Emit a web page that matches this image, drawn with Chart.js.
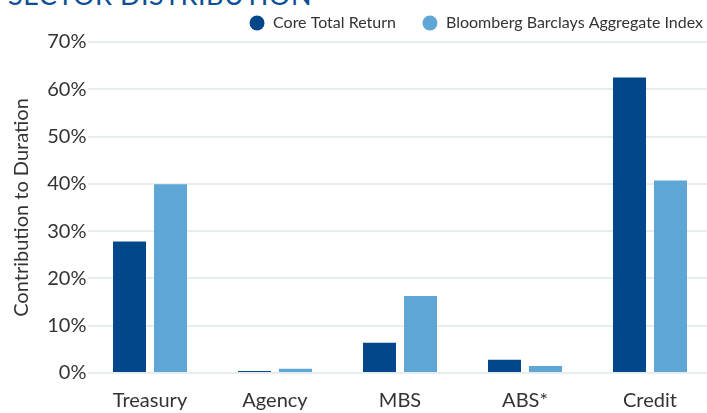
<!DOCTYPE html>
<html>
<head>
<meta charset="utf-8">
<script src="https://cdn.jsdelivr.net/npm/chart.js@4.4.1/dist/chart.umd.min.js"></script>
<style>
  html, body { margin: 0; padding: 0; background: #ffffff; overflow: hidden; width: 707px; height: 413px; }
  #wrap { position: relative; width: 707px; height: 413px; overflow: hidden; }
  #title { position: absolute; left: 8px; top: -22px; font-family: Lato, sans-serif; font-size: 27px; color: #0c4f94; letter-spacing: 0.5px; white-space: nowrap; }
  canvas { position: absolute; left: 0; top: 0; }
</style>
</head>
<body>
<div id="wrap">
  <div id="title">SECTOR DISTRIBUTION</div>
  <canvas id="c" width="715" height="413" style="width:715px;height:413px"></canvas>
</div>
<script>
const categories = ["Treasury", "Agency", "MBS", "ABS*", "Credit"];
const coreTotalReturn = [27.8, 0.4, 6.4, 2.8, 62.5];
const bloombergAggregate = [39.9, 0.9, 16.3, 1.5, 40.7];
const yTicks = [0, 10, 20, 30, 40, 50, 60, 70];

const darkBlue = "#02478a";
const lightBlue = "#5ea6d5";
const textColor = "#333333";
const gridColor = "#e6edef";

// Keeps the legend from pushing the plot down and places it like the reference.
const legendPlacer = {
  id: "legendPlacer",
  beforeUpdate(chart) {
    const lg = chart.legend;
    if (lg && !lg._patched) {
      const f = lg.fit;
      lg.fit = function () { f.call(this); this.height = 42; };
      lg._patched = true;
    }
  },
  afterLayout(chart) {
    const lg = chart.legend;
    if (!lg) return;
    const dx = 16.5, dy = -11;
    lg.left += dx; lg.right += dx; lg.top += dy; lg.bottom += dy;
  }
};

new Chart(document.getElementById("c"), {
  type: "bar",
  data: {
    labels: categories,
    datasets: [
      { label: "Core Total Return", data: coreTotalReturn, backgroundColor: darkBlue, borderWidth: 0 },
      { label: "Bloomberg Barclays Aggregate Index", data: bloombergAggregate, backgroundColor: lightBlue, borderWidth: 0 }
    ]
  },
  plugins: [legendPlacer],
  options: {
    responsive: false,
    animation: false,
    datasets: { bar: { categoryPercentage: 0.656, barPercentage: 0.805 } },
    layout: { padding: { left: 0, right: 2.5, top: 0, bottom: 0 } },
    plugins: {
      tooltip: { enabled: false },
      legend: {
        position: "top",
        align: "end",
        labels: {
          usePointStyle: true,
          pointStyle: "circle",
          boxWidth: 20,
          boxHeight: 10.6,
          padding: 26,
          color: textColor,
          font: { family: "Lato", size: 16 }
        }
      }
    },
    scales: {
      x: {
        afterFit: (s) => { s.height = 40; },
        grid: { display: false, drawTicks: false },
        border: { display: false },
        ticks: { color: textColor, font: { family: "Lato", size: 20 }, padding: 16 }
      },
      y: {
        min: 0,
        max: 70,
        afterFit: (s) => { s.width = 87.5; },
        afterBuildTicks: (s) => { s.ticks = yTicks.map(v => ({ value: v })); },
        grid: { color: gridColor, lineWidth: 2, drawTicks: false },
        border: { display: false },
        ticks: {
          color: textColor,
          font: { family: "Lato", size: 20 },
          padding: 1,
          callback: (v) => v + "%"
        },
        title: {
          display: true,
          text: "Contribution to Duration",
          color: textColor,
          font: { family: "Lato", size: 20 },
          padding: { top: 10, bottom: 0 }
        }
      }
    }
  }
});
</script>
</body>
</html>
